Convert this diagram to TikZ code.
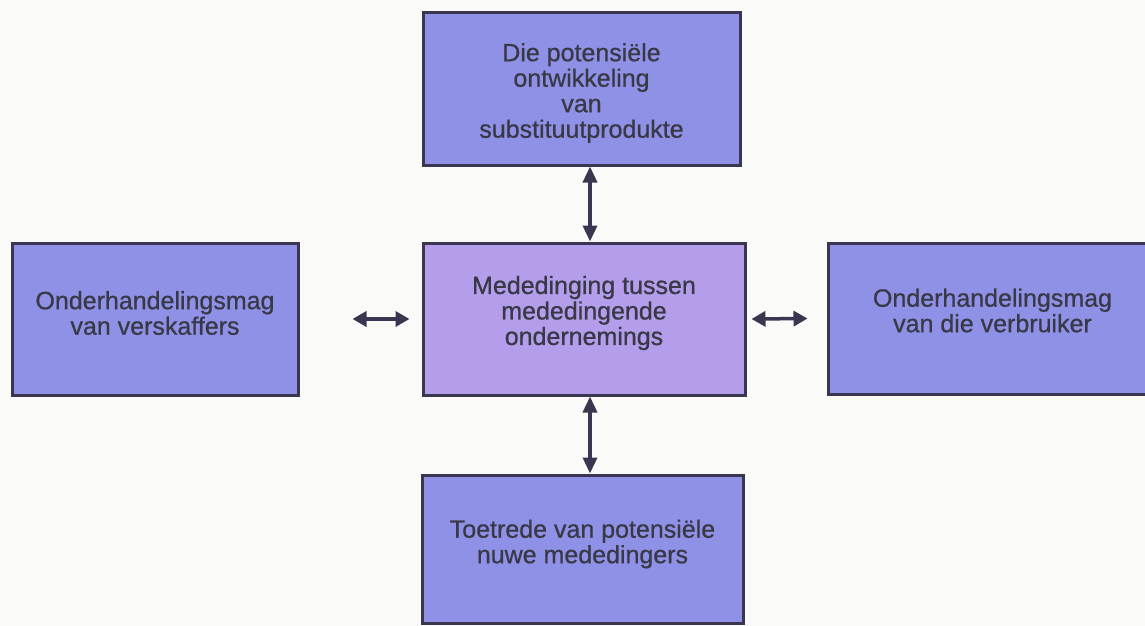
\documentclass[tikz,border=0pt]{standalone}
\usepackage{fontspec}
\setmainfont{Liberation Sans}
\newfontfamily\captionfont[FakeBold=0.7]{Liberation Sans}
\usetikzlibrary{arrows.meta,calc}
\definecolor{paper}{HTML}{FAFAF8}
\definecolor{boxfill}{HTML}{8E91E6}
\definecolor{corefill}{HTML}{B49DEA}
\definecolor{edge}{HTML}{3B3650}
\definecolor{ink}{HTML}{383846}
\tikzset{
  forcebox/.style={draw=edge, line width=3pt, fill=boxfill, inner sep=0pt},
  corebox/.style={forcebox, fill=corefill},
  lbl/.style={text=ink, align=center, inner sep=0pt,
    font=\captionfont\fontsize{25}{25.5}\selectfont},
  biarrow/.style={draw=edge, line width=3.5pt,
    {Triangle[length=14pt,width=15pt]}-{Triangle[length=14pt,width=15pt]}},
  vbiarrow/.style={draw=edge, line width=3.5pt,
    {Triangle[length=16pt,width=14pt]}-{Triangle[length=16pt,width=14pt]}},
}
\begin{document}
\begin{tikzpicture}[x=1pt,y=-1pt]
  \fill[paper] (0,0) rectangle (1145,626);
  \useasboundingbox (0,0) rectangle (1145,626);

  % the five forces
  \node[forcebox, minimum width=317pt, minimum height=152pt] (top)    at (581.5,89) {};
  \node[corebox,  minimum width=322pt, minimum height=152pt] (core)   at (584,319) {};
  \node[forcebox, minimum width=286pt, minimum height=152pt] (left)   at (155,319) {};
  \node[forcebox, minimum width=327pt, minimum height=151pt] (right)  at (991.5,318.5) {};
  \node[forcebox, minimum width=321pt, minimum height=148pt] (bottom) at (582.5,549) {};

  % their captions
  \node[lbl] (top-t)    at ([yshift=-4pt]top.center) {Die potensiële\\ontwikkeling\\van\\substituutprodukte};
  \node[lbl] (core-t)   at ([yshift=6pt]core.center) {Mededinging tussen\\mededingende\\ondernemings};
  \node[lbl] (left-t)   at ([yshift=6pt]left.center) {Onderhandelingsmag\\van verskaffers};
  \node[lbl] (right-t)  at ([xshift=1pt,yshift=8pt]right.center) {Onderhandelingsmag\\van die verbruiker};
  \node[lbl] (bottom-t) at ([yshift=5pt]bottom.center) {Toetrede van potensiële\\nuwe mededingers};

  % two-way influences
  \coordinate (ax) at (590,0);
  \draw[vbiarrow] (top.south -| ax) -- (core.north -| ax);
  \draw[vbiarrow] (core.south -| ax) -- (bottom.north -| ax);
  \draw[biarrow] ([xshift=53pt]left.east) -- ([xshift=-12pt]core.west);
  \draw[biarrow] ([xshift=5pt]core.east) -- ([xshift=-19pt]right.west);
\end{tikzpicture}
\end{document}
